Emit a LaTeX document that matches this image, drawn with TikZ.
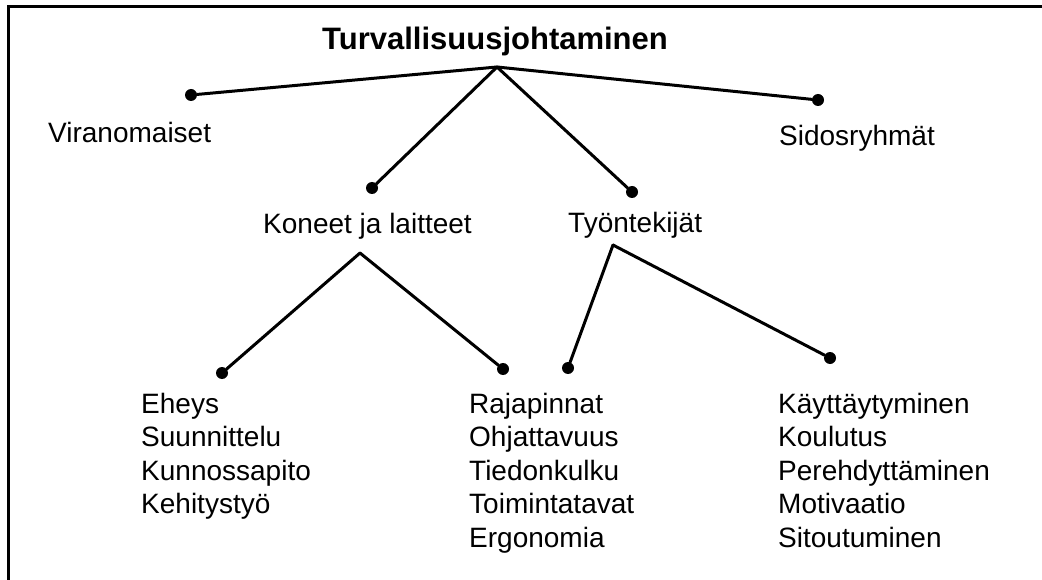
\documentclass[tikz,border=0pt]{standalone}
\usepackage{fontspec}
\setmainfont{Liberation Sans}
\usetikzlibrary{positioning}
\begin{document}
\begin{tikzpicture}[x=1pt,y=-1pt,
  lbl/.style={inner sep=0pt,anchor=base west,font=\fontsize{28}{33.5}\selectfont},
  lst/.style={lbl,align=left},
  dot/.style={circle,fill=black,inner sep=0pt,minimum size=12pt},
  link/.style={line width=3pt,line cap=round}]
  \useasboundingbox (0,0) rectangle (1042,580);
  \draw[line width=3pt] (8,580) -- (8,7) -- (1042,7);
  % top level
  \node[inner sep=0pt,anchor=base,font=\fontsize{31}{36}\selectfont\bfseries] (top) at (495,50) {Turvallisuusjohtaminen};
  \coordinate (root) at (497,67);
  \node[dot] (virdot) at (191,95) {};
  \node[dot] (siddot) at (818,100) {};
  \node[dot] (kondot) at (372,188) {};
  \node[dot] (tyodot) at (632,192) {};
  \node[lbl] (vir) at (48,143) {Viranomaiset};
  \node[lbl] (sid) at (779,146) {Sidosryhmät};
  \node[lbl] (kon) at (263,234) {Koneet ja laitteet};
  \node[lbl] (tyo) at (568,233) {Työntekijät};
  \foreach \n in {virdot,siddot,kondot,tyodot} \draw[link] (root) -- (\n);
  % second level (lists sit on their last line)
  \coordinate (konroot) at (360,253);
  \coordinate (tyoroot) at (613,245);
  \node[dot] (ehedot) at (222,373) {};
  \node[dot] (rajdotA) at (503,369) {};
  \node[dot] (rajdotB) at (568,368) {};
  \node[dot] (kaydot) at (830,358) {};
  \node[lst] (ehe) at (141,513.5) {Eheys\\Suunnittelu\\Kunnossapito\\Kehitystyö};
  \node[lst] (raj) at (469,547) {Rajapinnat\\Ohjattavuus\\Tiedonkulku\\Toimintatavat\\Ergonomia};
  \node[lst] (kay) at (778,547) {Käyttäytyminen\\Koulutus\\Perehdyttäminen\\Motivaatio\\Sitoutuminen};
  \foreach \n in {ehedot,rajdotA} \draw[link] (konroot) -- (\n);
  \foreach \n in {rajdotB,kaydot} \draw[link] (tyoroot) -- (\n);
\end{tikzpicture}
\end{document}
